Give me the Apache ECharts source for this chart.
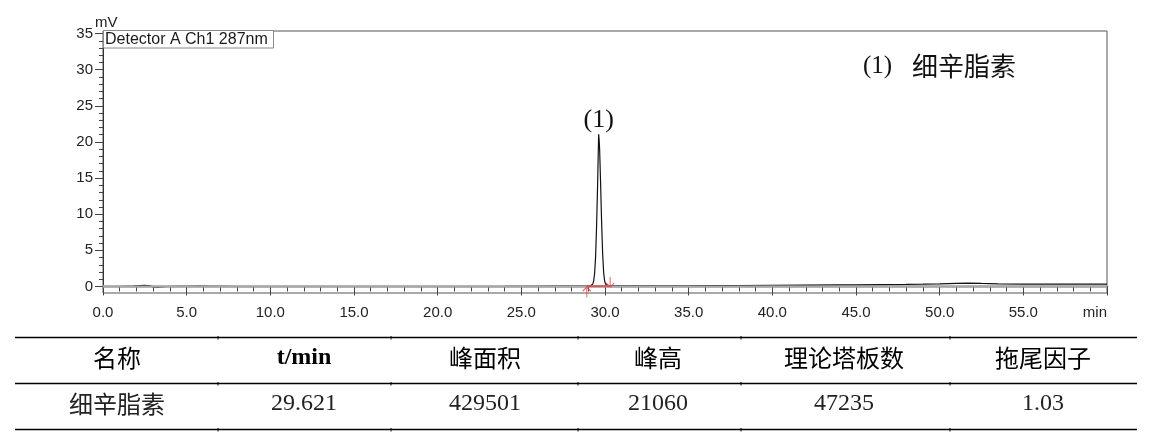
<!DOCTYPE html>
<html>
<head>
<meta charset="utf-8">
<title>细辛脂素 HPLC</title>
<script src="https://cdn.jsdelivr.net/npm/echarts@6/dist/echarts.min.js"></script>
<style>
    html, body { margin: 0; padding: 0; background: #fff; }
    #chart { width: 1163px; height: 444px; }
</style>
</head>
<body>
<div id="chart"></div>
<script>
// 色谱图数据 (时间 min, 信号 mV)
var baselineBefore = [
    [0.0, 0.0], [1.0, 0.0], [1.4, 0.03], [1.8, 0.05], [2.2, 0.12], [2.5, 0.15], [2.8, 0.1],
    [3.0, -0.05], [3.3, -0.08], [3.8, 0.0], [4.5, 0.03], [5.0, 0.02], [5.8, 0.04], [6.5, 0.03],
    [7.1, 0.02], [8.0, 0.0], [10.0, 0.0], [12.0, 0.0], [15.0, 0.0], [18.0, 0.0], [21.0, 0.0],
    [24.0, 0.01], [25.5, 0.03], [27.0, 0.04], [28.0, 0.04], [28.6, 0.05], [28.91, 0.05]
];
var peakPoints = [
    [29.00, 0.06], [29.10, 0.08], [29.20, 0.14], [29.26, 0.3], [29.32, 0.75], [29.38, 1.8],
    [29.44, 4.2], [29.50, 8.6], [29.56, 14.2], [29.59, 17.7], [29.62, 21.06], [29.65, 20.3],
    [29.68, 18.9], [29.74, 14.0], [29.80, 8.7], [29.86, 4.5], [29.92, 1.9], [29.98, 0.75],
    [30.04, 0.3], [30.10, 0.16], [30.20, 0.1]
];
var baselineAfter = [
    [30.31, 0.08], [31.0, 0.08], [32.0, 0.08], [33.5, 0.09], [35.0, 0.1], [36.5, 0.12],
    [38.0, 0.14], [40.0, 0.17], [42.0, 0.2], [44.0, 0.22], [45.0, 0.23], [46.5, 0.25],
    [48.0, 0.28], [49.0, 0.32], [50.0, 0.37], [51.0, 0.43], [51.7, 0.47], [52.5, 0.42],
    [53.5, 0.36], [55.0, 0.33], [56.5, 0.33], [58.0, 0.33], [59.0, 0.33], [60.0, 0.33]
];
var peakStart = [28.91, 0.05];
var peakEnd = [30.31, 0.08];
var peakName = '(1)';

var xTicks = [0, 5, 10, 15, 20, 25, 30, 35, 40, 45, 50, 55, 60];
var yTicks = [0, 5, 10, 15, 20, 25, 30, 35];

var tableHeader = ['名称', 't/min', '峰面积', '峰高', '理论塔板数', '拖尾因子'];
var tableRow = ['细辛脂素', '29.621', '429501', '21060', '47235', '1.03'];

var trace = baselineBefore.concat(peakPoints, baselineAfter);

// 次刻度 (每 1 min / 1 mV)
var xMinor = [], yMinor = [];
for (var i = 0; i <= 60; i++) xMinor.push(i);
for (var j = 0; j <= 35; j++) yMinor.push(j);

// 峰顶
var apex = trace[0];
trace.forEach(function (p) { if (p[1] > apex[1]) apex = p; });

var SERIF = '"Liberation Serif", "Times New Roman", serif';
var SANS = '"Liberation Sans", Arial, sans-serif';
var CJK = '"Noto Sans CJK SC", sans-serif';
var RED = '#e8464a';

// 表格布局
var colCenters = [117, 304, 485, 658, 844, 1043];
var colDividers = [218, 391, 578, 741, 950];
var rowLines = [337.5, 383.5, 429.5];

var graphics = [];
// 检测器标签框
graphics.push({
    type: 'rect', z: 100,
    shape: { x: 103.5, y: 30.5, width: 170, height: 17.5 },
    style: { fill: '#fff', stroke: '#8a8a8a', lineWidth: 1 }
});
graphics.push({
    type: 'text', z: 101,
    style: { text: 'Detector A Ch1 287nm', x: 105, y: 39.5, fontSize: 16, fontFamily: SANS, fill: '#1a1a1a', verticalAlign: 'middle' }
});
graphics.push({
    type: 'text',
    style: { text: 'mV', x: 95, y: 23, fontSize: 15, fontFamily: SANS, fill: '#1a1a1a', verticalAlign: 'middle' }
});
graphics.push({
    type: 'text',
    style: { text: '(1)', x: 863, y: 66, fontSize: 25, fontFamily: SERIF, fill: '#111', verticalAlign: 'middle' }
});
graphics.push({
    type: 'text',
    style: { text: tableRow[0], x: 912, y: 66, fontSize: 26, fontFamily: CJK, fill: '#111', verticalAlign: 'middle' }
});

rowLines.forEach(function (y) {
    graphics.push({
        type: 'line',
        shape: { x1: 15, y1: y, x2: 1137, y2: y },
        style: { stroke: '#000', lineWidth: 1.3 }
    });
    colDividers.forEach(function (x) {
        graphics.push({
            type: 'line',
            shape: { x1: x, y1: y - 1.5, x2: x, y2: y + 2 },
            style: { stroke: '#000', lineWidth: 1 }
        });
    });
});

tableHeader.forEach(function (txt, k) {
    var isLatin = /^[\x00-\x7f]+$/.test(txt);
    graphics.push({
        type: 'text',
        style: {
            text: txt, x: colCenters[k], y: 358,
            fontSize: 24, fontWeight: isLatin ? 'bold' : 'normal',
            fontFamily: isLatin ? SERIF : CJK,
            fill: '#000', align: 'center', verticalAlign: 'middle'
        }
    });
});
tableRow.forEach(function (txt, k) {
    var isLatin = /^[\x00-\x7f]+$/.test(txt);
    graphics.push({
        type: 'text',
        style: {
            text: txt, x: colCenters[k], y: 404,
            fontSize: 24, fontWeight: 'normal',
            fontFamily: isLatin ? SERIF : CJK,
            fill: '#222', align: 'center', verticalAlign: 'middle'
        }
    });
});

var chart = echarts.init(document.getElementById('chart'));

var option = {
    backgroundColor: '#fff',
    animation: false,
    grid: {
        left: 103, right: 56, top: 31, bottom: 151,
        show: true, borderColor: '#555', borderWidth: 1
    },
    xAxis: [{
        type: 'value', position: 'bottom', min: 0, max: 60,
        axisLine: { show: true, lineStyle: { color: '#a6a6a6', width: 2.5 } },
        axisTick: { show: true, customValues: xTicks, length: 9, lineStyle: { color: '#444' } },
        axisLabel: {
            customValues: xTicks, margin: 12, fontSize: 15, fontFamily: SANS, color: '#222',
            alignMaxLabel: 'right',
            formatter: function (v) { return v === 60 ? 'min' : v.toFixed(1); }
        },
        splitLine: { show: false }
    }, {
        type: 'value', position: 'bottom', min: 0, max: 60,
        axisLine: { show: false },
        axisTick: { show: true, customValues: xMinor, length: 5, lineStyle: { color: '#444' } },
        axisLabel: { show: false },
        splitLine: { show: false }
    }],
    yAxis: [{
        type: 'value', position: 'left', min: -0.9, max: 35.35,
        axisLine: { show: true, lineStyle: { color: '#333', width: 1 } },
        axisTick: { show: true, customValues: yTicks, length: 8, lineStyle: { color: '#444' } },
        axisLabel: { customValues: yTicks, margin: 10, fontSize: 15, fontFamily: SANS, color: '#222' },
        splitLine: { show: false }
    }, {
        type: 'value', position: 'left', min: -0.9, max: 35.35,
        axisLine: { show: false },
        axisTick: { show: true, customValues: yMinor, length: 4, lineStyle: { color: '#444' } },
        axisLabel: { show: false },
        splitLine: { show: false }
    }],
    series: [{
        name: '色谱图',
        type: 'line',
        xAxisIndex: 0, yAxisIndex: 0,
        data: trace,
        showSymbol: false,
        smooth: false,
        lineStyle: { color: '#111', width: 1.2 },
        z: 3,
        markPoint: {
            symbol: 'circle', symbolSize: 0,
            data: [{ coord: apex }],
            label: {
                show: true, position: 'top', distance: 1,
                formatter: peakName,
                fontSize: 26, fontFamily: SERIF, color: '#111'
            }
        }
    }, {
        // 零线
        name: 'zero',
        type: 'line',
        data: [[0, 0], [60, 0]],
        showSymbol: false,
        silent: true,
        lineStyle: { color: '#a9a9a9', width: 2 },
        z: 4
    }, {
        // 积分基线
        name: 'base',
        type: 'line',
        data: [peakStart, peakEnd],
        showSymbol: false,
        silent: true,
        lineStyle: { color: RED, width: 1.5 },
        z: 5
    }, {
        name: 'startMark',
        type: 'scatter',
        data: [peakStart],
        symbol: 'path://M0,4L4,0L8,4M4,0L4,10',
        symbolSize: [8, 10],
        symbolOffset: [0, 6],
        itemStyle: { color: 'rgba(0,0,0,0)', borderColor: RED, borderWidth: 1.2 },
        silent: true,
        z: 6
    }, {
        name: 'endMark',
        type: 'scatter',
        data: [peakEnd],
        symbol: 'path://M4,0L4,10M0,6L4,10L8,6',
        symbolSize: [8, 10],
        symbolOffset: [0, -4],
        itemStyle: { color: 'rgba(0,0,0,0)', borderColor: RED, borderWidth: 1.2 },
        silent: true,
        z: 6
    }],
    graphic: graphics
};

chart.setOption(option);
</script>
</body>
</html>
